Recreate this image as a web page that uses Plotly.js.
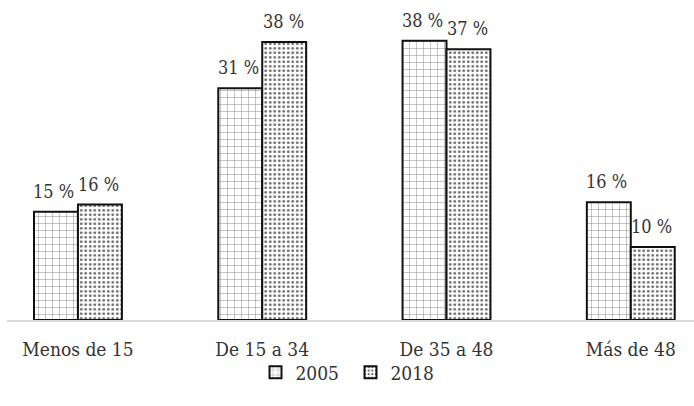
<!DOCTYPE html>
<html>
<head>
<meta charset="utf-8">
<script src="https://cdn.plot.ly/plotly-3.0.1.min.js"></script>
<style>html,body{margin:0;padding:0;background:#fff;}#chart{width:694px;height:406px;}</style>
</head>
<body>
<div id="chart"></div>
<script>
var categories = ["Menos de 15", "De 15 a 34", "De 35 a 48", "Más de 48"];
var series2005 = [15.0, 32.1, 38.7, 16.3];
var series2018 = [16.0, 38.5, 37.5, 10.1];
var labels2005 = ["15 %", "31 %", "38 %", "16 %"];
var labels2018 = ["16 %", "38 %", "37 %", "10 %"];
var seriesNames = ["2005", "2018"];

var fontFam = "DejaVu Serif Condensed, DejaVu Serif, serif";
var txtColor = "#333333";
var fs = 19;
var fsLab = 18;

var traces = [
  {
    type: "bar", name: seriesNames[0], x: categories, y: series2005,
    marker: {color: "#ffffff", line: {color: "#111111", width: 2},
      pattern: {shape: "+", fgcolor: "#7a7a7a", bgcolor: "#ffffff", size: 7, solidity: 0.12}},
    hoverinfo: "none"
  },
  {
    type: "bar", name: seriesNames[1], x: categories, y: series2018,
    marker: {color: "#ffffff", line: {color: "#111111", width: 2},
      pattern: {shape: ".", fgcolor: "#6a6a6a", bgcolor: "#ffffff", size: 4.5, solidity: 0.3}},
    hoverinfo: "none"
  }
];

var annotations = [];
categories.forEach(function (c, i) {
  annotations.push({x: c, y: series2005[i], text: labels2005[i], showarrow: false,
    xref: "x", yref: "y", xshift: -24, yanchor: "bottom", yshift: 8,
    font: {family: fontFam, size: fsLab, color: txtColor}});
  annotations.push({x: c, y: series2018[i], text: labels2018[i], showarrow: false,
    xref: "x", yref: "y", xshift: 21, yanchor: "bottom", yshift: 8,
    font: {family: fontFam, size: fsLab, color: txtColor}});
});

var layout = {
  width: 694, height: 406,
  margin: {l: 7, r: 0, t: 10, b: 85.5},
  paper_bgcolor: "#ffffff", plot_bgcolor: "#ffffff",
  font: {family: fontFam, size: fs, color: txtColor},
  barmode: "group", bargap: 0.523, bargroupgap: 0,
  showlegend: true,
  legend: {orientation: "h", x: 0.5, xanchor: "center", y: -0.108, yanchor: "top",
    bgcolor: "rgba(0,0,0,0)",
    font: {family: fontFam, size: fs, color: txtColor}, itemwidth: 30,
    entrywidth: 50, entrywidthmode: "pixels"},
  xaxis: {type: "category", range: [-0.385, 3.343], showline: true, linecolor: "#d9d9d9",
    linewidth: 1.5, ticks: "", showgrid: false, zeroline: false, ticklabelstandoff: 12,
    tickfont: {family: fontFam, size: fs, color: txtColor}, fixedrange: true},
  yaxis: {range: [0, 42.95], visible: false, showgrid: false, zeroline: false, fixedrange: true},
  annotations: annotations
};

Plotly.newPlot("chart", traces, layout, {displayModeBar: false, staticPlot: true});
</script>
</body>
</html>
